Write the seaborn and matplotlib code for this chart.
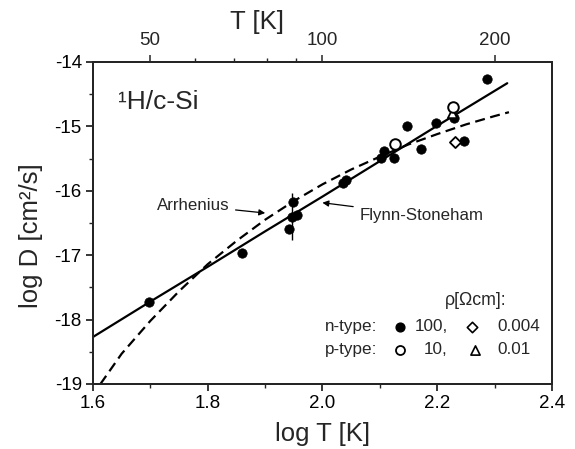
import numpy as np
import pandas as pd
import matplotlib
matplotlib.use("Agg")
import matplotlib.pyplot as plt
import seaborn as sns

# ---- data ----
n100_logT = [1.697, 1.859, 1.948, 1.946, 1.955, 1.941, 2.036, 2.041, 2.102, 2.108,
             2.125, 2.148, 2.172, 2.198, 2.230, 2.247, 2.287]
n100_logD = [-17.73, -16.97, -16.18, -16.41, -16.38, -16.59, -15.88, -15.84, -15.49, -15.38,
             -15.49, -15.00, -15.35, -14.95, -14.87, -15.22, -14.27]
p10_logT = [2.127, 2.228]
p10_logD = [-15.27, -14.70]
n0004_logT = [2.231]
n0004_logD = [-15.24]
p001_logT = [2.226]
p001_logD = [-14.80]
err_logT = [1.946]
err_logD = [-16.40]
err_size = [0.37]

fs_logT = [1.600, 1.700, 1.800, 1.900, 2.000, 2.100, 2.200, 2.322]
fs_logD = [-18.27, -17.72, -17.18, -16.63, -16.09, -15.54, -14.99, -14.33]

arr_logT = [1.613, 1.650, 1.700, 1.750, 1.800, 1.850, 1.900, 1.950, 2.000, 2.050,
            2.100, 2.150, 2.200, 2.250, 2.300, 2.325]
arr_logD = [-19.00, -18.53, -18.02, -17.56, -17.14, -16.78, -16.45, -16.16, -15.90, -15.67,
            -15.47, -15.28, -15.12, -14.97, -14.84, -14.78]

top_T_major = [50, 100, 200]
top_T_minor = [60, 70, 80, 90]

sns.set_theme(style="ticks")
plt.rcParams['font.family'] = ['Liberation Sans', 'DejaVu Sans']
plt.rcParams['mathtext.fontset'] = 'custom'
plt.rcParams['mathtext.rm'] = 'Liberation Sans'

fig = plt.figure(figsize=(5.75, 4.49), dpi=100)
ax = fig.add_axes([0.1617, 0.1448, 0.7983, 0.7172])

# curves
sns.lineplot(x=fs_logT, y=fs_logD, ax=ax, color='black', lw=1.6, sort=False, estimator=None)
sns.lineplot(x=arr_logT, y=arr_logD, ax=ax, color='black', lw=1.6, sort=False, estimator=None,
             linestyle=(0, (4.5, 2.5)))

# error bar
ax.errorbar(err_logT, err_logD, yerr=err_size, fmt='none', ecolor='black', elinewidth=1.0, capsize=0)

# points
sns.scatterplot(x=n100_logT, y=n100_logD, ax=ax, marker='o', s=46, color='black',
                edgecolor='black', linewidth=0.5, zorder=5)
sns.scatterplot(x=p10_logT, y=p10_logD, ax=ax, marker='o', s=58, facecolor='white',
                edgecolor='black', linewidth=1.4, zorder=6)
sns.scatterplot(x=n0004_logT, y=n0004_logD, ax=ax, marker='D', s=32, facecolor='white',
                edgecolor='black', linewidth=1.3, zorder=6)
sns.scatterplot(x=p001_logT, y=p001_logD, ax=ax, marker='^', s=45, facecolor='white',
                edgecolor='black', linewidth=1.3, zorder=5)

ax.set_xticks([1.6, 1.8, 2.0, 2.2, 2.4])
ax.set_xticklabels(['1.6', '1.8', '2.0', '2.2', '2.4'])
ax.set_xticks(np.arange(1.7, 2.4, 0.2), minor=True)
ax.set_yticks([-19, -18, -17, -16, -15, -14])
ax.set_yticklabels(['-19', '-18', '-17', '-16', '-15', '-14'])
ax.set_yticks(np.arange(-18.5, -14, 1.0), minor=True)
ax.set_xlim(1.6, 2.4)
ax.set_ylim(-19, -14)
ax.tick_params(axis='both', which='major', direction='out', length=5, width=1.1,
               labelsize=13.5, pad=3, colors='black')
ax.tick_params(axis='both', which='minor', direction='out', length=3, width=1.0)
for s in ax.spines.values():
    s.set_linewidth(1.4)
    s.set_color('black')
    s.set_visible(True)

ax.set_xlabel('log T [K]', fontsize=18.5)
ax.xaxis.set_label_coords(0.5, -0.118)
ax.set_ylabel('log D [cm²/s]', fontsize=18.5)
ax.yaxis.set_label_coords(-0.108, 0.46)

# top axis
ax2 = ax.twiny()
ax2.set_xticks(np.log10(top_T_major))
ax2.set_xticklabels([str(t) for t in top_T_major])
ax2.set_xticks(np.log10(top_T_minor), minor=True)
ax2.set_xlim(1.6, 2.4)
ax2.tick_params(axis='x', which='major', direction='out', length=5, width=1.1,
                labelsize=13.5, pad=4)
ax2.tick_params(axis='x', which='minor', direction='out', length=3, width=1.0)
for s in ax2.spines.values():
    s.set_linewidth(1.4)
ax2.set_xlabel('T [K]', fontsize=18.5)
ax2.xaxis.set_label_coords(0.357, 1.103)

# annotations
ax.text(0.055, 0.875, '¹H/c-Si', transform=ax.transAxes, fontsize=19,
        ha='left', va='center')
ax.annotate('Arrhenius', xy=(1.905, -16.35), xytext=(1.838, -16.23),
            fontsize=12.2, ha='right', va='center',
            arrowprops=dict(arrowstyle='-|>', color='black', lw=0.9, mutation_scale=9))
ax.annotate('Flynn-Stoneham', xy=(1.995, -16.18), xytext=(2.064, -16.38),
            fontsize=12.2, ha='left', va='center',
            arrowprops=dict(arrowstyle='-|>', color='black', lw=0.9, mutation_scale=9))

# key
ax.text(0.834, 0.26, 'ρ[Ωcm]:', transform=ax.transAxes, fontsize=12.8,
        ha='center', va='center')
ax.text(0.505, 0.177, 'n-type:', transform=ax.transAxes, fontsize=12.3, ha='left', va='center')
ax.text(0.505, 0.106, 'p-type:', transform=ax.transAxes, fontsize=12.3, ha='left', va='center')
ax.scatter([0.669], [0.177], transform=ax.transAxes, marker='o', s=40, color='black',
           clip_on=False, zorder=7)
ax.scatter([0.669], [0.106], transform=ax.transAxes, marker='o', s=42, facecolor='white',
           edgecolor='black', linewidth=1.3, clip_on=False, zorder=7)
ax.text(0.773, 0.177, '100,', transform=ax.transAxes, fontsize=12.3, ha='right', va='center')
ax.text(0.773, 0.106, '10,', transform=ax.transAxes, fontsize=12.3, ha='right', va='center')
ax.scatter([0.826], [0.177], transform=ax.transAxes, marker='D', s=28, facecolor='white',
           edgecolor='black', linewidth=1.2, clip_on=False, zorder=7)
ax.scatter([0.832], [0.106], transform=ax.transAxes, marker='^', s=44, facecolor='white',
           edgecolor='black', linewidth=1.2, clip_on=False, zorder=7)
ax.text(0.882, 0.177, '0.004', transform=ax.transAxes, fontsize=12.3, ha='left', va='center')
ax.text(0.882, 0.106, '0.01', transform=ax.transAxes, fontsize=12.3, ha='left', va='center')

fig.savefig('out.png', dpi=100)
